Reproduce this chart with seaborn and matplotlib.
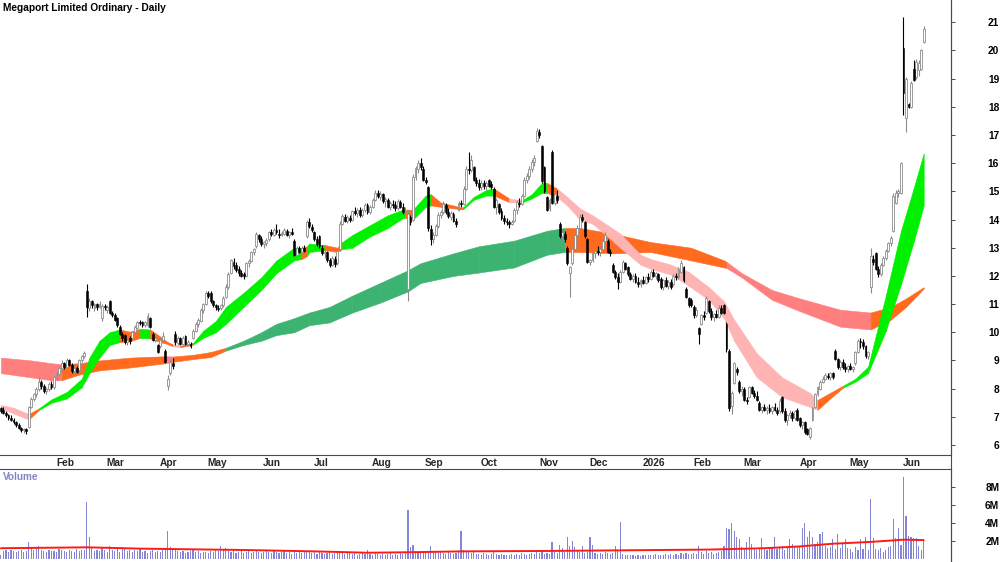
import numpy as np
import pandas as pd
import seaborn as sns
import matplotlib.pyplot as plt
from matplotlib.lines import Line2D
from matplotlib import transforms

# trading calendar (ASX holidays inside the window)
first_day, last_day = "2025-01-02", "2026-06-15"
holidays = ["2025-01-27", "2025-04-18", "2025-04-21", "2025-04-25", "2025-06-09",
            "2025-12-25", "2025-12-26", "2026-01-01", "2026-01-26", "2026-04-03",
            "2026-04-06", "2026-06-08"]

# daily prices, one row per month
opens = [
    7.30, 7.25, 7.15, 7.05, 6.95, 6.90, 6.80, 6.72, 6.60, 6.52, 6.55, 6.65, 7.35, 7.62, 7.80, 7.98, 8.25, 8.08, 7.90, 7.98, 8.18,
    8.05, 8.40, 8.52, 8.72, 8.90, 8.78, 9.02, 8.85, 8.62, 8.72, 8.65, 9.00, 9.15, 11.45, 10.85, 11.10, 10.85, 11.00, 10.90, 10.50,
    10.92, 10.80, 11.10, 10.70, 10.62, 10.50, 10.20, 9.95, 9.90, 9.65, 9.80, 9.80, 10.00, 10.15, 10.35, 10.35, 10.25, 10.25, 10.50, 9.95, 9.72,
    9.55, 9.50, 9.72, 9.35, 8.10, 8.55, 8.90, 9.95, 9.62, 9.78, 9.60, 9.85, 9.60, 9.60, 9.80, 10.05, 10.28, 10.40, 10.80,
    11.00, 11.38, 11.40, 11.10, 10.95, 10.85, 10.85, 10.95, 11.25, 11.62, 12.10, 12.50, 12.40, 12.25, 12.10, 12.05, 12.00, 12.45, 12.52, 12.85, 13.05, 13.45,
    13.30, 13.12, 13.15, 13.30, 13.55, 13.45, 13.62, 13.50, 13.45, 13.50, 13.60, 13.45, 13.55, 13.25, 12.75, 12.98, 12.85, 13.00, 13.40, 13.90,
    13.75, 13.55, 13.30, 13.40, 13.00, 12.80, 12.85, 12.55, 12.40, 12.60, 12.45, 12.95, 13.85, 14.10, 13.95, 14.05, 14.00, 14.30, 14.22, 14.35, 14.15, 14.35, 14.50,
    14.28, 14.45, 14.70, 14.95, 14.80, 14.90, 14.65, 14.70, 14.45, 14.55, 14.50, 14.40, 14.62, 14.45, 14.25, 11.55, 14.10, 14.00, 15.50, 15.80, 16.00,
    15.80, 15.40, 15.15, 13.65, 13.30, 13.45, 13.78, 14.15, 14.25, 14.50, 14.25, 14.10, 14.20, 13.95, 14.35, 14.60, 14.55, 15.10, 15.80, 15.75, 15.85, 15.40,
    15.30, 15.15, 15.30, 15.20, 15.40, 15.25, 15.10, 14.45, 14.55, 14.30, 14.05, 13.95, 13.90, 13.85, 13.95, 14.35, 14.60, 14.55, 14.85, 15.42, 15.55, 15.80, 16.05,
    16.80, 17.10, 16.60, 15.85, 14.80, 14.40, 16.40, 14.60, 14.85, 13.85, 13.40, 13.50, 13.00, 12.10, 12.45, 12.95, 13.45, 13.70, 14.10, 13.90,
    13.30, 12.50, 12.55, 12.80, 12.90, 12.85, 12.95, 13.25, 13.25, 12.85, 12.40, 12.15, 11.95, 11.80, 12.15, 12.45, 12.30, 12.05, 11.90, 12.00, 11.80,
    11.70, 11.85, 11.75, 11.95, 11.90, 12.15, 12.00, 12.05, 11.90, 11.60, 11.85, 11.65, 11.80, 11.70, 12.00, 11.95, 12.15, 12.30, 11.55, 11.20,
    11.15, 10.90, 10.60, 10.15, 10.30, 10.60, 10.70, 11.10, 10.75, 10.55, 10.65, 10.55, 10.85, 10.95, 10.30, 9.35, 7.40, 8.20, 8.70, 8.25,
    7.90, 8.00, 7.60, 7.70, 8.05, 7.85, 7.75, 7.50, 7.25, 7.35, 7.25, 7.30, 7.20, 7.35, 7.25, 7.20, 7.70, 7.20, 6.90, 7.05, 7.15, 6.95,
    7.25, 6.95, 6.70, 6.80, 6.55, 6.30, 6.90, 7.35, 7.80, 8.00, 8.25, 8.35, 8.45, 8.40, 8.55, 9.35, 9.05, 8.75, 8.95, 8.75,
    8.70, 8.80, 8.70, 8.90, 9.30, 9.70, 9.65, 9.50, 9.15, 11.60, 12.60, 12.80, 12.25, 12.05, 12.40, 12.65, 12.90, 13.15, 13.60, 14.60, 14.95,
    14.95, 20.10, 17.60, 18.10, 18.00, 19.35, 19.05, 19.30, 19.35, 20.30,
]
highs = [
    7.35, 7.35, 7.20, 7.10, 7.05, 6.95, 6.85, 6.78, 6.65, 6.60, 6.62, 7.40, 7.70, 7.85, 8.05, 8.40, 8.30, 8.15, 8.05, 8.25, 8.28,
    8.45, 8.60, 8.80, 9.00, 8.95, 9.10, 9.05, 8.90, 8.80, 8.80, 9.05, 9.20, 9.35, 11.70, 11.20, 11.15, 11.05, 11.05, 11.10, 11.00,
    11.00, 10.95, 11.15, 10.75, 10.68, 10.55, 10.25, 10.00, 9.95, 9.80, 9.85, 10.05, 10.25, 10.40, 10.42, 10.40, 10.40, 10.70, 10.55, 10.00, 9.85,
    9.60, 9.80, 10.00, 9.40, 8.50, 9.05, 9.10, 10.05, 9.85, 9.82, 9.85, 9.90, 9.72, 9.65, 10.10, 10.35, 10.50, 10.85, 11.05,
    11.45, 11.45, 11.45, 11.15, 11.00, 10.95, 11.00, 11.30, 11.70, 12.15, 12.60, 12.65, 12.50, 12.35, 12.20, 12.15, 12.50, 12.60, 12.90, 13.00, 13.55, 13.50,
    13.40, 13.25, 13.35, 13.60, 13.65, 13.70, 13.85, 13.65, 13.60, 13.70, 13.68, 13.60, 13.70, 13.30, 13.05, 13.05, 13.05, 13.10, 14.00, 14.05,
    13.85, 13.60, 13.40, 13.45, 13.10, 12.95, 12.90, 12.65, 12.70, 12.70, 12.95, 13.95, 14.20, 14.20, 14.15, 14.15, 14.35, 14.45, 14.40, 14.45, 14.40, 14.58, 14.60,
    14.50, 14.75, 15.05, 15.05, 15.00, 14.95, 14.80, 14.78, 14.65, 14.70, 14.65, 14.72, 14.70, 14.60, 14.45, 14.35, 14.15, 15.60, 15.90, 16.10, 16.20,
    15.90, 15.50, 15.20, 13.80, 13.55, 13.85, 14.25, 14.35, 14.65, 14.60, 14.40, 14.30, 14.25, 14.05, 14.65, 14.70, 15.20, 15.90, 16.40, 16.30, 15.90, 15.50,
    15.45, 15.40, 15.40, 15.35, 15.45, 15.35, 15.15, 14.75, 14.60, 14.40, 14.15, 14.05, 14.00, 14.00, 14.40, 14.70, 14.75, 14.90, 15.50, 15.65, 15.90, 16.15, 16.30,
    17.25, 17.20, 16.65, 15.90, 14.85, 14.75, 16.45, 14.95, 15.05, 13.90, 13.65, 13.60, 13.05, 12.35, 13.00, 13.50, 13.80, 14.20, 14.20, 13.95,
    13.35, 12.60, 12.85, 12.95, 13.05, 13.00, 13.30, 13.55, 13.30, 12.95, 12.45, 12.20, 12.10, 12.20, 12.55, 12.50, 12.35, 12.15, 12.05, 12.10, 11.95,
    11.90, 12.00, 12.00, 12.10, 12.20, 12.25, 12.15, 12.10, 11.95, 11.90, 11.95, 11.85, 11.90, 12.05, 12.10, 12.30, 12.55, 12.35, 11.60, 11.25,
    11.20, 10.95, 10.90, 10.20, 10.65, 10.75, 11.30, 11.15, 10.85, 10.70, 10.80, 10.95, 10.95, 11.00, 10.35, 9.40, 7.90, 8.95, 8.75, 8.30,
    8.10, 8.05, 7.70, 8.10, 8.10, 7.95, 7.90, 7.55, 7.40, 7.45, 7.40, 7.45, 7.40, 7.50, 7.35, 7.65, 7.75, 7.30, 7.10, 7.25, 7.20, 7.25,
    7.30, 7.00, 6.85, 6.85, 6.60, 6.65, 7.35, 7.85, 8.10, 8.30, 8.45, 8.55, 8.55, 8.60, 8.60, 9.40, 9.10, 9.00, 9.05, 8.90,
    8.85, 8.90, 8.80, 9.35, 9.75, 9.80, 9.75, 9.55, 9.35, 13.00, 12.75, 12.85, 12.35, 12.45, 12.70, 12.95, 13.20, 13.40, 14.95, 15.05, 15.10,
    16.05, 21.20, 19.05, 18.15, 18.90, 19.65, 19.70, 19.65, 20.05, 20.85,
]
lows = [
    7.15, 7.10, 7.00, 6.90, 6.85, 6.75, 6.65, 6.55, 6.45, 6.42, 6.40, 6.60, 7.30, 7.55, 7.70, 7.92, 8.00, 7.85, 7.82, 7.92, 8.00,
    8.00, 8.30, 8.45, 8.65, 8.70, 8.75, 8.80, 8.55, 8.55, 8.55, 8.60, 8.95, 9.10, 10.55, 10.75, 10.85, 10.75, 10.80, 10.85, 10.40,
    10.80, 10.70, 10.65, 10.55, 10.40, 10.20, 9.90, 9.70, 9.60, 9.55, 9.60, 9.75, 9.95, 10.10, 10.25, 10.20, 10.20, 10.20, 10.15, 9.68, 9.65,
    9.25, 9.45, 9.70, 8.90, 7.95, 8.50, 8.70, 9.55, 9.55, 9.55, 9.55, 9.55, 9.50, 9.45, 9.75, 10.00, 10.20, 10.35, 10.70,
    10.95, 11.20, 11.05, 10.90, 10.80, 10.75, 10.80, 10.90, 11.20, 11.55, 12.05, 12.25, 12.15, 12.00, 11.95, 11.90, 11.95, 12.30, 12.48, 12.75, 13.00, 13.20,
    13.05, 13.00, 13.05, 13.25, 13.40, 13.40, 13.50, 13.35, 13.40, 13.45, 13.40, 13.35, 13.45, 12.70, 12.70, 12.80, 12.80, 12.85, 13.35, 13.70,
    13.55, 13.25, 13.05, 13.00, 12.75, 12.65, 12.50, 12.30, 12.35, 12.30, 12.40, 12.90, 13.80, 13.90, 13.88, 13.90, 13.95, 14.15, 14.10, 14.10, 14.10, 14.25, 14.20,
    14.20, 14.40, 14.65, 14.75, 14.70, 14.60, 14.45, 14.40, 14.35, 14.40, 14.30, 14.35, 14.40, 14.20, 14.15, 11.10, 13.80, 13.95, 15.40, 15.65, 15.75,
    15.35, 15.25, 13.60, 13.10, 13.15, 13.40, 13.70, 14.05, 14.20, 14.20, 14.05, 14.00, 13.90, 13.75, 14.30, 14.45, 14.50, 15.05, 15.60, 15.70, 15.35, 15.20,
    15.05, 15.05, 15.10, 15.05, 15.15, 15.10, 14.40, 14.20, 14.20, 14.00, 13.85, 13.80, 13.70, 13.80, 13.90, 14.20, 14.45, 14.50, 14.80, 15.30, 15.45, 15.70, 15.90,
    16.75, 16.90, 15.30, 14.95, 14.30, 14.30, 14.55, 14.50, 14.60, 13.35, 13.25, 13.20, 12.40, 11.25, 12.40, 12.90, 13.40, 13.65, 13.90, 13.35,
    12.45, 12.40, 12.50, 12.65, 12.75, 12.70, 12.90, 13.15, 12.80, 12.70, 12.10, 11.90, 11.55, 11.75, 12.10, 12.20, 12.00, 11.85, 11.80, 11.75, 11.60,
    11.60, 11.70, 11.70, 11.80, 11.85, 11.95, 11.90, 11.80, 11.55, 11.50, 11.60, 11.55, 11.55, 11.65, 11.85, 11.90, 12.10, 11.80, 11.20, 10.90,
    10.90, 10.50, 10.55, 9.60, 10.25, 10.45, 10.65, 10.70, 10.45, 10.40, 10.50, 10.50, 10.65, 10.65, 9.30, 7.20, 7.10, 8.15, 8.50, 7.85,
    7.75, 7.55, 7.45, 7.65, 7.80, 7.65, 7.55, 7.20, 7.15, 7.20, 7.10, 7.15, 7.10, 7.20, 7.05, 7.15, 7.15, 6.80, 6.70, 6.95, 6.85, 6.90,
    6.85, 6.65, 6.55, 6.40, 6.35, 6.20, 6.85, 7.30, 7.75, 7.95, 8.20, 8.30, 8.35, 8.30, 8.35, 9.00, 8.70, 8.65, 8.70, 8.60,
    8.60, 8.65, 8.60, 8.85, 9.25, 9.45, 9.40, 9.10, 9.05, 11.40, 12.40, 12.20, 11.95, 12.00, 12.35, 12.55, 12.85, 13.05, 13.55, 14.55, 14.80,
    14.90, 17.70, 17.10, 17.95, 17.95, 18.90, 19.00, 19.10, 19.30, 20.25,
]
closes = [
    7.22, 7.15, 7.05, 6.95, 6.90, 6.80, 6.72, 6.60, 6.52, 6.55, 6.48, 7.35, 7.62, 7.80, 7.98, 8.25, 8.08, 7.92, 7.98, 8.18, 8.05,
    8.40, 8.52, 8.72, 8.90, 8.78, 9.02, 8.85, 8.62, 8.72, 8.60, 9.00, 9.15, 9.28, 10.90, 11.10, 10.95, 11.00, 10.88, 11.02, 10.92,
    10.90, 10.88, 10.70, 10.62, 10.45, 10.25, 9.95, 9.78, 9.65, 9.72, 9.68, 10.00, 10.20, 10.35, 10.32, 10.25, 10.35, 10.58, 10.20, 9.72, 9.80,
    9.30, 9.72, 9.85, 8.95, 8.35, 8.95, 8.80, 9.65, 9.78, 9.60, 9.78, 9.60, 9.65, 9.50, 10.05, 10.28, 10.42, 10.80, 11.00,
    11.38, 11.30, 11.10, 10.95, 10.88, 10.82, 10.95, 11.22, 11.62, 12.08, 12.55, 12.35, 12.22, 12.10, 12.00, 11.98, 12.45, 12.52, 12.85, 12.95, 13.48, 13.30,
    13.12, 13.20, 13.28, 13.55, 13.48, 13.62, 13.55, 13.45, 13.52, 13.62, 13.45, 13.55, 13.50, 12.75, 13.00, 12.85, 12.98, 12.90, 13.90, 13.78,
    13.62, 13.30, 13.12, 13.05, 12.80, 12.85, 12.55, 12.40, 12.65, 12.42, 12.90, 13.85, 14.12, 13.95, 14.10, 13.98, 14.30, 14.22, 14.35, 14.15, 14.35, 14.50, 14.28,
    14.45, 14.70, 14.95, 14.82, 14.90, 14.65, 14.72, 14.45, 14.58, 14.50, 14.40, 14.65, 14.45, 14.25, 14.30, 14.20, 13.90, 15.50, 15.82, 16.00, 15.85,
    15.40, 15.32, 13.70, 13.30, 13.45, 13.78, 14.15, 14.28, 14.55, 14.25, 14.12, 14.22, 13.95, 13.85, 14.60, 14.55, 15.10, 15.80, 15.75, 16.10, 15.40, 15.30,
    15.15, 15.30, 15.20, 15.28, 15.20, 15.15, 14.45, 14.70, 14.25, 14.05, 13.95, 13.90, 13.85, 13.92, 14.35, 14.62, 14.55, 14.82, 15.42, 15.55, 15.80, 16.05, 16.20,
    17.15, 17.00, 15.35, 15.00, 14.35, 14.70, 14.60, 14.90, 14.70, 13.40, 13.55, 13.30, 12.45, 12.30, 12.95, 13.45, 13.70, 14.10, 14.00, 13.40,
    12.50, 12.55, 12.80, 12.90, 12.85, 12.95, 13.25, 13.45, 12.85, 12.80, 12.15, 11.95, 11.80, 12.15, 12.50, 12.25, 12.05, 11.90, 12.00, 11.80, 11.70,
    11.85, 11.75, 11.95, 11.88, 12.15, 12.00, 12.10, 11.85, 11.60, 11.85, 11.65, 11.80, 11.62, 12.00, 11.95, 12.25, 12.45, 11.85, 11.25, 10.95,
    10.95, 10.60, 10.80, 9.95, 10.60, 10.55, 11.20, 10.75, 10.55, 10.65, 10.55, 10.85, 10.70, 10.70, 9.40, 7.30, 7.85, 8.90, 8.60, 7.90,
    8.00, 7.60, 7.55, 8.05, 7.85, 7.75, 7.60, 7.25, 7.35, 7.25, 7.30, 7.20, 7.35, 7.25, 7.15, 7.55, 7.20, 6.90, 7.05, 7.15, 6.95, 7.20,
    6.90, 6.70, 6.80, 6.45, 6.40, 6.60, 7.30, 7.80, 8.05, 8.25, 8.35, 8.50, 8.40, 8.55, 8.40, 9.05, 8.75, 8.95, 8.75, 8.70,
    8.80, 8.70, 8.75, 9.30, 9.70, 9.65, 9.50, 9.15, 9.30, 12.70, 12.50, 12.25, 12.05, 12.40, 12.65, 12.90, 13.15, 13.35, 14.85, 14.95, 15.00,
    16.00, 18.50, 19.00, 18.00, 18.85, 18.95, 19.60, 19.55, 20.00, 20.75,
]
# daily volume, millions
volume = [
    0.5, 0.9, 1.0, 0.8, 1.0, 0.9, 0.8, 0.9, 1.0, 0.8, 0.9, 1.9, 1.2, 1.0, 1.1, 1.5, 1.0, 0.9, 0.8, 1.0, 0.9,
    0.9, 0.8, 1.1, 1.0, 0.9, 0.8, 1.0, 0.9, 0.8, 1.1, 0.9, 1.0, 1.0, 6.3, 2.4, 1.2, 0.9, 1.0, 0.9, 1.3,
    1.0, 0.8, 1.4, 1.0, 0.9, 1.1, 0.8, 1.3, 1.2, 0.9, 1.0, 0.8, 1.0, 0.9, 1.1, 0.8, 0.9, 0.7, 0.9, 1.0, 0.8,
    0.9, 0.8, 1.0, 1.2, 3.1, 1.3, 1.0, 1.1, 0.9, 0.8, 0.9, 0.7, 0.8, 0.9, 1.0, 0.8, 0.9, 0.7, 0.8,
    0.8, 0.7, 0.9, 0.8, 1.0, 0.9, 1.5, 1.0, 1.2, 0.9, 0.8, 0.9, 0.7, 0.8, 0.9, 0.7, 0.8, 0.9, 0.7, 0.8, 0.9, 0.8,
    0.7, 0.8, 0.9, 0.8, 0.7, 0.9, 0.8, 0.7, 0.8, 0.9, 0.7, 0.8, 0.6, 0.9, 0.7, 0.8, 0.7, 0.8, 0.9, 0.8,
    0.7, 0.8, 0.6, 0.8, 0.7, 0.6, 0.7, 0.8, 0.6, 0.7, 0.8, 0.9, 0.7, 0.6, 0.8, 0.7, 0.6, 0.7, 0.5, 0.6, 0.7, 0.6, 1.0,
    0.6, 0.5, 0.7, 0.6, 0.5, 0.6, 0.5, 0.6, 0.7, 0.5, 0.6, 0.5, 0.7, 0.6, 0.8, 5.4, 1.3, 1.6, 0.9, 0.7, 0.8,
    0.8, 0.9, 0.7, 1.5, 0.9, 0.8, 0.7, 0.8, 0.7, 0.6, 0.8, 0.7, 0.6, 0.7, 0.8, 3.1, 1.0, 0.9, 0.8, 0.7, 0.8, 0.6,
    0.6, 0.5, 0.7, 0.6, 0.5, 0.6, 0.8, 0.6, 0.5, 0.6, 0.5, 0.4, 0.5, 0.6, 0.5, 0.6, 0.5, 0.7, 0.6, 0.5, 0.6, 0.7, 0.6,
    0.9, 0.7, 0.8, 0.6, 0.7, 0.6, 1.9, 0.8, 0.7, 1.6, 1.2, 0.8, 2.4, 1.5, 2.0, 1.3, 1.0, 0.8, 1.4, 0.7,
    0.8, 2.5, 1.6, 0.7, 0.6, 0.7, 0.6, 0.8, 0.7, 0.6, 0.7, 1.5, 1.0, 4.1, 0.6, 0.5, 0.4, 0.5, 0.4, 0.3, 0.4,
    0.3, 0.4, 0.4, 0.5, 0.4, 0.5, 0.6, 0.5, 0.4, 0.5, 0.6, 0.5, 0.6, 0.5, 0.6, 0.5, 0.7, 0.6, 0.7, 0.6,
    0.6, 0.7, 0.6, 1.4, 0.8, 0.6, 0.9, 0.7, 0.8, 0.6, 0.7, 0.8, 0.9, 1.5, 3.5, 3.3, 4.0, 3.1, 2.4, 2.2,
    1.3, 1.1, 1.9, 2.4, 1.7, 1.2, 1.0, 1.2, 2.3, 1.1, 1.0, 1.2, 1.3, 2.5, 1.1, 1.2, 1.5, 1.0, 1.3, 2.2, 1.7, 1.4,
    1.5, 1.3, 3.4, 4.0, 2.5, 3.1, 2.4, 1.7, 1.9, 2.8, 3.0, 1.4, 1.2, 1.3, 2.2, 1.1, 2.8, 1.2, 1.7, 2.2,
    1.2, 1.1, 0.8, 1.3, 1.0, 2.2, 1.1, 2.4, 1.0, 6.7, 2.3, 1.1, 1.0, 1.2, 0.8, 1.0, 1.3, 1.5, 4.5, 2.3, 3.5,
    1.6, 9.1, 4.8, 2.6, 2.5, 2.3, 2.3, 1.5, 1.0, 2.2,
]
# volume average line (bar number, millions)
vol_avg_at = [0, 34, 56, 97, 124, 145, 161, 182, 218, 280, 302, 316, 329, 344, 357, 365]
vol_avg = [1.2, 1.3, 1.15, 1.0, 0.85, 0.7, 0.75, 0.85, 0.9, 1.05, 1.2, 1.4, 1.7, 1.9, 2.15, 2.1]

# short-term MA ribbon: bar number, upper edge, lower edge, state of following stretch
fast_at = [0, 5, 11, 15, 20, 26, 32, 35, 39, 43, 47, 51, 55, 59, 63, 66, 68, 71, 76, 80, 85, 89, 96, 103,
           109, 116, 119, 121, 122, 127, 128, 133, 135, 139, 146, 153, 159, 160, 163, 168, 170, 174, 179,
           182, 183, 187, 192, 195, 201, 206, 210, 214, 216, 220, 224, 229, 234, 240, 245, 253, 257, 265,
           272, 280, 286, 290, 299, 309, 320, 323, 328, 333, 338, 343, 350, 356, 361, 365]
fast_hi = [7.42, 7.32, 7.10, 7.30, 7.62, 7.88, 8.35, 9.10, 9.70, 10.00, 10.10, 10.02, 10.12, 10.10, 9.85,
           9.65, 9.57, 9.52, 9.62, 10.05, 10.40, 10.90, 11.40, 11.95, 12.55, 13.00, 13.00, 13.05, 13.15,
           13.10, 13.10, 13.00, 13.20, 13.45, 13.80, 14.15, 14.35, 14.35, 14.35, 14.85, 14.90, 14.60, 14.50,
           14.42, 14.45, 14.80, 15.05, 15.10, 14.75, 14.68, 14.90, 15.30, 15.30, 15.10, 14.80, 14.40, 14.15,
           13.80, 13.50, 12.75, 12.60, 12.40, 12.15, 11.60, 11.10, 10.45, 9.25, 8.40, 7.85, 7.60, 7.85,
           8.10, 8.35, 8.78, 11.30, 13.60, 15.10, 16.35]
fast_lo = [7.31, 7.12, 6.90, 7.24, 7.50, 7.65, 8.05, 8.55, 9.10, 9.55, 9.65, 9.68, 9.80, 9.78, 9.65,
           9.58, 9.50, 9.47, 9.56, 9.80, 10.00, 10.30, 10.90, 11.50, 12.10, 12.55, 12.60, 12.70, 12.85,
           12.90, 12.92, 12.85, 12.95, 13.00, 13.40, 13.70, 14.05, 14.05, 14.00, 14.45, 14.50, 14.45, 14.40,
           14.36, 14.38, 14.70, 14.85, 14.85, 14.62, 14.60, 14.75, 14.95, 14.95, 14.80, 14.50, 14.00, 13.85,
           13.40, 13.00, 12.40, 12.25, 12.05, 11.65, 11.15, 10.50, 9.70, 8.40, 7.70, 7.35, 7.25, 7.65,
           8.03, 8.25, 8.55, 10.05, 11.70, 13.20, 14.50]
fast_state = ["dn", "dn", "mx", "up", "up", "up", "up", "up", "up", "up", "mx", "mx", "up", "mx", "mx",
              "mx", "dn", "mx", "up", "up", "up", "up", "up", "up", "up", "up", "mx", "up", "up",
              "up", "mx", "mx", "up", "up", "up", "up", "up", "mx", "up", "up", "mx", "mx", "mx",
              "mx", "up", "up", "up", "mx", "dn", "up", "up", "up", "mx", "dn", "dn", "dn", "dn",
              "dn", "dn", "dn", "dn", "dn", "dn", "dn", "dn", "dn", "dn", "dn", "dn", "mx", "mx",
              "up", "up", "up", "up", "up", "up", "up"]

# long-term MA ribbon
slow_at = [0, 12, 20, 24, 31, 39, 51, 65, 68, 76, 83, 89, 96, 103, 109, 116, 122, 130, 139, 150, 161,
           166, 179, 189, 203, 216, 223, 229, 242, 257, 273, 286, 287, 293, 305, 316, 332, 344, 352, 358, 365]
slow_hi = [9.10, 9.00, 8.90, 8.87, 8.90, 9.00, 9.10, 9.15, 9.14, 9.20, 9.30, 9.45, 9.70, 10.00, 10.30,
           10.50, 10.70, 10.90, 11.30, 11.75, 12.20, 12.45, 12.80, 13.05, 13.25, 13.60, 13.70, 13.70,
           13.50, 13.20, 13.00, 12.55, 12.50, 12.10, 11.50, 11.20, 10.80, 10.70, 10.90, 11.20, 11.60]
slow_lo = [8.55, 8.40, 8.30, 8.30, 8.50, 8.65, 8.75, 8.90, 8.95, 9.05, 9.12, 9.35, 9.55, 9.70, 9.90,
           10.00, 10.25, 10.35, 10.70, 11.05, 11.45, 11.75, 12.00, 12.12, 12.30, 12.75, 12.85, 12.85,
           12.80, 12.85, 12.55, 12.30, 12.28, 11.95, 11.15, 10.75, 10.20, 10.10, 10.45, 10.90, 11.55]
slow_state = ["dn", "dn", "dn", "mx", "mx", "mx", "mx", "dn", "mx", "mx", "mx", "up", "up", "up", "up",
              "up", "up", "up", "up", "up", "up", "up", "up", "up", "up", "up", "mx", "mx", "mx", "mx",
              "mx", "mx", "dn", "dn", "dn", "dn", "dn", "mx", "mx", "mx", "mx"]

fast_pal = {"up": "#00f000", "mx": "#ff6a1f", "dn": "#ffb4b4"}
slow_pal = {"up": "#3cb371", "mx": "#ff6a1f", "dn": "#ff7f7f"}

sns.set_theme(style="white")
plt.rcParams["font.family"] = ["Liberation Sans", "DejaVu Sans"]
plt.rcParams["font.weight"] = "bold"

dates = pd.bdate_range(first_day, last_day, freq="C", holidays=holidays)
bars = np.arange(len(dates))
o, h, l, c = (np.array(v) for v in (opens, highs, lows, closes))

W, H = 1000, 562
fig = plt.figure(figsize=(W / 100, H / 100), dpi=100)
ax = fig.add_axes([0, 1 - 455 / H, 951 / W, 455 / H])
axv = fig.add_axes([0, 0, 951 / W, 93 / H], sharex=ax)


def ribbon(at, hi, lo, state, pal):
    for k in range(len(at) - 1):
        col = pal[state[k]]
        ax.fill_between(at[k:k + 2], lo[k:k + 2], hi[k:k + 2], color=col,
                        ec=col, lw=0.4, zorder=1)


ribbon(slow_at, slow_hi, slow_lo, slow_state, slow_pal)
ribbon(fast_at, fast_hi, fast_lo, fast_state, fast_pal)

# candles
up = c >= o
body_lo = np.minimum(o, c)
body_h = np.maximum(np.abs(c - o), 0.04)
ax.vlines(bars[up], l[up], h[up], color="#8c8c8c", lw=0.8, zorder=3)
ax.vlines(bars[~up], l[~up], h[~up], color="black", lw=0.8, zorder=3)
ax.bar(bars[up], body_h[up], bottom=body_lo[up], width=0.75, color="white",
       edgecolor="#8c8c8c", linewidth=0.6, zorder=4)
ax.bar(bars[~up], body_h[~up], bottom=body_lo[~up], width=0.75, color="black",
       edgecolor="black", linewidth=0.4, zorder=4)

# volume panel
sns.barplot(x=bars, y=volume, native_scale=True, orient="x", color="#8585d6",
            saturation=1, errorbar=None, width=0.45, linewidth=0, ax=axv)
sns.lineplot(x=vol_avg_at, y=vol_avg, color="#ff1a1a", lw=1.4, ax=axv)

ax.set_xlim(-0.36, 375.8)
ax.set_ylim(5.645, 21.79)
axv.set_ylim(-0.33, 10.0)

spine_col = "#4a4a4a"
for a in (ax, axv):
    a.set_facecolor("white")
    a.grid(False)
    a.yaxis.tick_right()
    for s in a.spines.values():
        s.set_color(spine_col)
        s.set_linewidth(0.8)
    a.spines["left"].set_visible(False)
    a.tick_params(axis="y", direction="out", length=3, width=0.7, color=spine_col,
                  labelsize=7.3, labelcolor="black", pad=31.7)
ax.spines["top"].set_visible(False)
axv.spines["bottom"].set_visible(False)

ax.set_yticks(range(6, 22))
ax.set_yticklabels([str(v) for v in range(6, 22)])
axv.set_yticks([2, 4, 6, 8])
axv.set_yticklabels(["2M", "4M", "6M", "8M"])
for a in (ax, axv):
    for lab in a.get_yticklabels():
        lab.set_horizontalalignment("right")
        lab.set_fontweight("bold")

# month ticks on the price panel
starts = np.flatnonzero(np.r_[True, dates.month[1:] != dates.month[:-1]])[1:]
names = [str(d.year) if d.month == 1 else d.strftime("%b") for d in dates[starts]]
ax.set_xticks(starts)
ax.set_xticklabels(names)
ax.tick_params(axis="x", direction="in", length=3, width=0.7, color=spine_col,
               labelsize=7.3, pad=2)
shift = transforms.ScaledTranslation(2 / 100, 0, fig.dpi_scale_trans)
for lab in ax.get_xticklabels():
    lab.set_horizontalalignment("left")
    lab.set_fontweight("bold")
    lab.set_transform(lab.get_transform() + shift)
axv.tick_params(axis="x", bottom=False, labelbottom=False)
ax.set_xlabel("")
ax.set_ylabel("")
axv.set_xlabel("")
axv.set_ylabel("")

# right border through the gap between panels
fig.add_artist(Line2D([951 / W, 951 / W], [0, 1], transform=fig.transFigure,
                      color=spine_col, lw=0.8))

fig.text(3 / W, 1 - 8 / H, "Megaport Limited Ordinary - Daily", ha="left", va="center",
         fontsize=7.3, fontweight="bold", color="black")
fig.text(3 / W, 1 - 477 / H, "Volume", ha="left", va="center",
         fontsize=7.2, fontweight="bold", color="#8484c4")

fig.savefig("out.png", dpi=100, facecolor="white")
